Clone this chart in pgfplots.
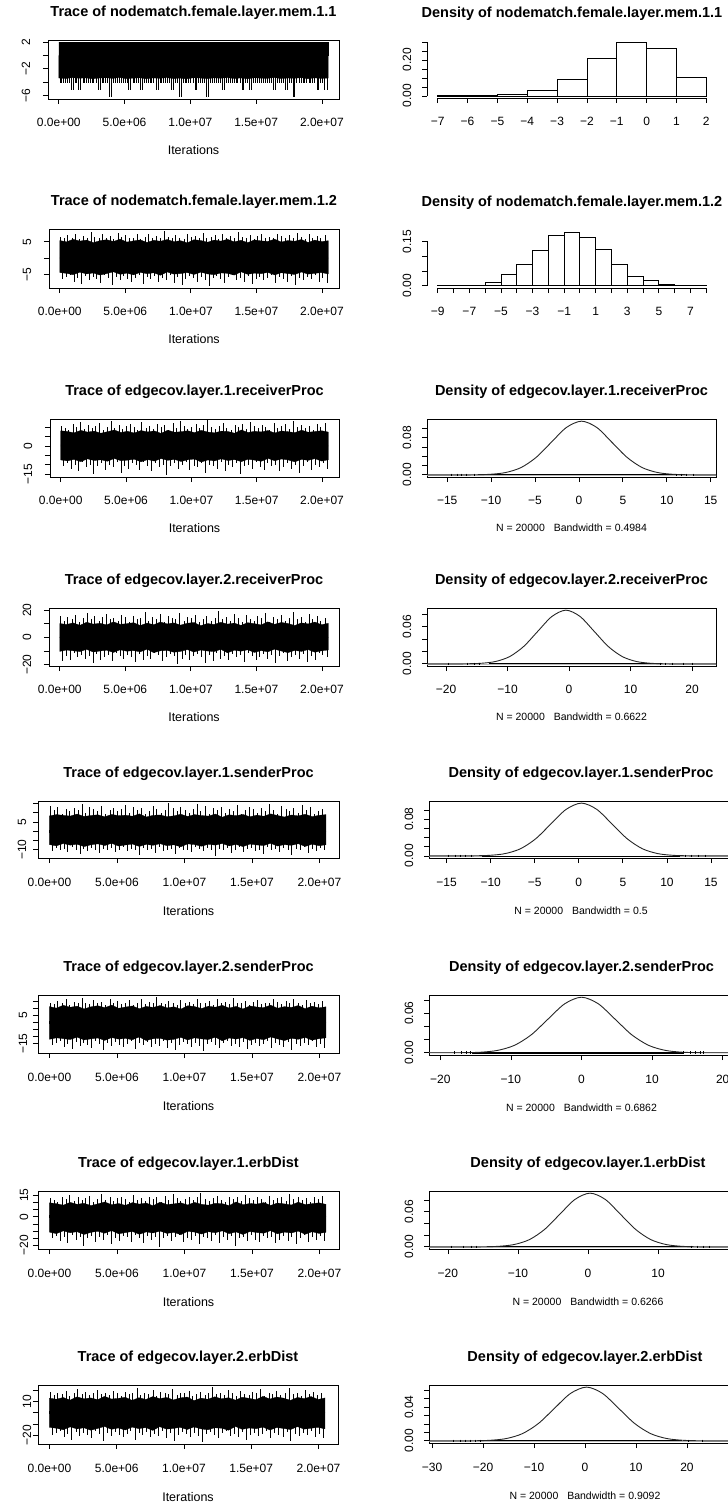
\documentclass[border=0pt]{standalone}
\usepackage{fontspec}
\setmainfont{Liberation Sans}
\usepackage{pgfplots}
\pgfplotsset{compat=1.18}
\usepackage{pgfplotstable}

\newcommand\titlefont{\fontsize{14.5}{17}\selectfont\bfseries}
\newcommand\tickfont{\fontsize{12}{14}\selectfont}
\newcommand\labfont{\fontsize{12.5}{15}\selectfont}
\newcommand\subfont{\fontsize{10.5}{13}\selectfont}

% envelope of the dense part of each trace (iterations in millions)
\pgfplotstableread{
x h1 l1 h2 l2 h3 l3 h4 l4 h5 l5 h6 l6 h7 l7 h8 l8
0 2 -3.38 5.42 -4.5 8.0 -7.4 10.15 -10.3 8.3 -7.3 11.3 -11.8 9.75 -10.7 13.2 -13.0
0.512 2 -3.45 5.0 -4.74 7.6 -7.9 9.4 -9.25 9.0 -8.0 10.25 -10.75 9.15 -11.75 12.2 -13.8
1.024 2 -3.32 5.78 -5.16 6.9 -7.1 10.6 -9.85 8.6 -6.7 12.2 -11.35 8.1 -9.8 13.8 -15.2
1.536 2 -3.41 5.24 -4.38 8.2 -8.3 8.8 -10.45 8.2 -7.6 10.85 -11.95 10.05 -11.15 11.4 -12.6
2.048 2 -3.36 5.54 -4.92 7.3 -6.8 11.05 -8.8 9.3 -7.1 11.6 -10.3 8.7 -10.4 14.4 -14.4
2.56 2 -3.49 4.76 -4.62 7.8 -7.7 9.7 -10.75 8.0 -8.4 9.65 -12.25 9.45 -12.35 12.6 -13.4
3.072 2 -3.39 5.36 -5.28 6.7 -7.3 10.3 -10.0 8.5 -7.4 11.15 -11.5 7.8 -10.85 13.4 -15.6
3.584 2 -3.34 5.66 -4.8 7.5 -8.1 9.1 -9.4 8.9 -6.9 11.9 -10.9 9.0 -10.1 11.8 -14.0
4.096 2 -3.43 5.12 -4.26 8.4 -6.6 11.35 -11.05 7.8 -7.8 10.55 -12.55 10.35 -11.45 14.8 -12.2
4.608 2 -3.31 5.84 -5.04 7.1 -7.8 9.55 -9.1 9.1 -6.6 12.35 -10.6 8.4 -9.65 12.4 -14.8
5.12 2 -3.46 4.94 -4.68 7.7 -7.5 10.0 -10.15 8.4 -8.1 10.1 -11.65 9.3 -11.9 13.0 -13.6
5.632 2 -3.4 5.3 -5.22 6.8 -7.0 10.75 -9.7 8.7 -7.5 11.0 -11.2 7.95 -11.0 14.0 -15.4
6.144 2 -3.35 5.6 -4.44 8.1 -8.4 8.65 -10.6 8.1 -7.0 11.75 -12.1 9.9 -10.25 11.2 -12.8
6.656 2 -3.48 4.82 -4.86 7.4 -7.2 10.45 -8.65 9.4 -8.3 9.8 -10.15 8.85 -12.2 13.6 -14.2
7.168 2 -3.37 5.48 -4.56 7.9 -8.0 9.25 -11.2 7.7 -7.2 11.45 -12.7 9.6 -10.55 12.0 -13.2
7.68 2 -3.42 5.18 -5.34 6.6 -6.7 11.2 -9.85 8.6 -7.7 10.7 -11.35 7.65 -11.3 14.6 -15.8
8.192 2 -3.33 5.72 -4.32 8.3 -7.6 9.85 -9.55 8.8 -6.8 12.05 -11.05 10.2 -9.95 12.8 -12.4
8.704 2 -3.44 5.06 -4.98 7.2 -7.1 10.6 -10.9 7.9 -7.9 10.4 -12.4 8.55 -11.6 13.8 -14.6
9.216 2 -3.39 5.36 -4.8 7.5 -8.2 8.95 -10.3 8.3 -7.4 11.15 -11.8 9.0 -10.85 11.6 -14.0
9.728 2 -3.5 4.7 -4.5 8.0 -7.3 10.3 -8.95 9.2 -8.5 9.5 -10.45 9.75 -12.5 13.4 -13.0
10.24 2 -3.34 5.66 -5.1 7.0 -6.9 10.9 -10.75 8.0 -6.9 11.9 -12.25 8.25 -10.1 14.2 -15.0
10.752 2 -3.38 5.42 -4.38 8.2 -8.5 8.5 -9.25 9.0 -7.3 11.3 -10.75 10.05 -10.7 11.0 -12.6
11.264 2 -3.47 4.88 -4.92 7.3 -7.4 10.15 -10.0 8.5 -8.2 9.95 -11.5 8.7 -12.05 13.2 -14.4
11.776 2 -3.36 5.54 -5.16 6.9 -7.9 9.4 -10.45 8.2 -7.1 11.6 -11.95 8.1 -10.4 12.2 -15.2
12.288 2 -3.41 5.24 -4.62 7.8 -6.8 11.05 -8.8 9.3 -7.6 10.85 -10.3 9.45 -11.15 14.4 -13.4
12.8 2 -3.32 5.78 -4.74 7.6 -7.7 9.7 -11.35 7.6 -6.7 12.2 -12.85 9.15 -9.8 12.6 -13.8
13.312 2 -3.45 5.0 -5.28 6.7 -7.2 10.45 -9.4 8.9 -8.0 10.25 -10.9 7.8 -11.75 13.6 -15.6
13.824 2 -3.37 5.48 -4.26 8.4 -8.3 8.8 -10.15 8.4 -7.2 11.45 -11.65 10.35 -10.55 11.4 -12.2
14.336 2 -3.49 4.76 -5.04 7.1 -7.0 10.75 -9.1 9.1 -8.4 9.65 -10.6 8.4 -12.35 14.0 -14.8
14.848 2 -3.35 5.6 -4.68 7.7 -7.5 10.0 -11.05 7.8 -7.0 11.75 -12.55 9.3 -10.25 13.0 -13.6
15.36 2 -3.4 5.3 -4.86 7.4 -8.1 9.1 -9.7 8.7 -7.5 11.0 -11.2 8.85 -11.0 11.8 -14.2
15.872 2 -3.43 5.12 -4.44 8.1 -6.6 11.35 -10.6 8.1 -7.8 10.55 -12.1 9.9 -11.45 14.8 -12.8
16.384 2 -3.31 5.84 -5.22 6.8 -7.8 9.55 -8.65 9.4 -6.6 12.35 -10.15 7.95 -9.65 12.4 -15.4
16.896 2 -3.46 4.94 -4.56 7.9 -6.9 10.9 -10.0 8.5 -8.1 10.1 -11.5 9.6 -11.9 14.2 -13.2
17.408 2 -3.38 5.42 -4.8 7.5 -7.4 10.15 -11.2 7.7 -7.3 11.3 -12.7 9.0 -10.7 13.2 -14.0
17.92 2 -3.42 5.18 -5.1 7.0 -8.4 8.65 -9.55 8.8 -7.7 10.7 -11.05 8.25 -11.3 11.2 -15.0
18.432 2 -3.33 5.72 -4.32 8.3 -7.1 10.6 -10.3 8.3 -6.8 12.05 -11.8 10.2 -9.95 13.8 -12.4
18.944 2 -3.48 4.82 -4.98 7.2 -7.6 9.85 -8.95 9.2 -8.3 9.8 -10.45 8.55 -12.2 12.8 -14.6
19.456 2 -3.36 5.54 -4.74 7.6 -6.7 11.2 -10.9 7.9 -7.1 11.6 -12.4 9.15 -10.4 14.6 -13.8
19.968 2 -3.44 5.06 -4.5 8.0 -8.0 9.25 -9.85 8.6 -7.9 10.4 -11.35 9.75 -11.6 12.0 -13.0
20.48 2 -3.39 5.36 -4.92 7.3 -7.3 10.3 -9.25 9.0 -7.4 11.15 -10.75 8.7 -10.85 13.4 -14.4
}\core

% single excursions beyond the dense part (up at xu, down at xd)
\pgfplotstableread{
xu xd d1 u2 d2 u3 d3 u4 d4 u5 d5 u6 d6 u7 d7 u8 d8
0.08 0.22 -4.2 6.55 -6.62 10.5 -10.6 15.5 -17.1 13.7 -11 14.15 -15.8 12.9 -15.05 19 -20
0.35 0.49 -4.2 6.05 -5.96 9.5 -9.2 12.3 -13.9 11.3 -9 13.05 -14.4 11.7 -13.35 15.8 -18
0.61 0.78 -4.2 7.05 -5.3 8.5 -12 14.7 -16.3 13.1 -10.5 15.25 -13 10.5 -16.75 18.2 -16
0.95 1.08 -5.2 6.3 -7.28 11.5 -9.9 13.1 -11.5 9.5 -9.5 13.6 -17.2 14.1 -14.2 16.6 -22
1.22 1.35 -4.2 7.55 -6.29 10 -13.4 16.3 -14.7 11.9 -11.5 16.35 -15.1 12.3 -18.45 19.8 -19
1.48 1.66 -5.2 5.8 -7.94 12.5 -8.5 11.5 -13.1 10.7 -8.5 12.5 -18.6 15.3 -12.5 15 -24
1.83 1.97 -4.2 6.8 -5.63 9 -11.3 13.9 -15.5 12.5 -10 14.7 -13.7 11.1 -15.9 17.4 -17
2.10 2.25 -4.2 6.3 -6.95 11 -9.9 17.9 -13.9 11.3 -12.5 13.6 -16.5 13.5 -14.2 21.4 -21
2.41 2.53 -4.2 8.05 -5.96 9.5 -14.8 13.1 -18.7 14.9 -9.5 17.45 -14.4 11.7 -20.15 16.6 -18
2.66 2.82 -4.2 6.55 -6.62 10.5 -10.6 15.5 -12.3 10.1 -11 14.15 -15.8 12.9 -15.05 19 -20
2.98 3.12 -5.2 6.05 -7.61 12 -9.2 12.3 -16.3 13.1 -9 13.05 -17.9 14.7 -13.35 15.8 -23
3.27 3.41 -4.2 7.3 -5.3 8.5 -12.7 14.7 -14.7 11.9 -10.5 15.8 -13 10.5 -17.6 18.2 -16
3.55 3.70 -4.2 6.3 -6.29 10 -9.9 17.1 -13.1 10.7 -12 13.6 -15.1 12.3 -14.2 20.6 -19
3.86 3.99 -6.2 6.8 -8.27 13 -11.3 13.1 -17.1 13.7 -9.5 14.7 -19.3 15.9 -15.9 16.6 -25
4.12 4.30 -4.2 5.8 -5.96 9.5 -8.5 13.9 -11.5 9.5 -10 12.5 -14.4 11.7 -12.5 17.4 -18
4.47 4.60 -4.2 7.8 -6.95 11 -14.1 12.3 -13.9 11.3 -9 16.9 -16.5 13.5 -19.3 15.8 -21
4.73 4.88 -4.2 6.55 -5.63 9 -10.6 16.3 -15.5 12.5 -11.5 14.15 -13.7 11.1 -15.05 19.8 -17
5.02 5.17 -4.2 7.05 -6.62 10.5 -12 14.7 -13.1 10.7 -10.5 15.25 -15.8 12.9 -16.75 18.2 -20
5.31 5.47 -5.2 6.05 -7.28 11.5 -9.2 11.5 -14.7 11.9 -8.5 13.05 -17.2 14.1 -13.35 15 -22
5.64 5.77 -4.2 6.3 -6.29 10 -9.9 15.5 -17.9 14.3 -11 13.6 -15.1 12.3 -14.2 19 -19
5.90 6.04 -4.2 7.3 -5.3 8.5 -12.7 13.1 -12.3 10.1 -9.5 15.8 -13 10.5 -17.6 16.6 -16
6.18 6.35 -5.2 5.8 -7.94 12.5 -8.5 13.9 -16.3 13.1 -10 12.5 -18.6 15.3 -12.5 17.4 -24
6.52 6.65 -4.2 6.55 -5.96 9.5 -10.6 18.7 -13.9 11.3 -13 14.15 -14.4 11.7 -15.05 22.2 -18
6.79 6.93 -4.2 7.55 -6.62 10.5 -13.4 12.3 -15.5 12.5 -9 16.35 -15.8 12.9 -18.45 15.8 -20
7.07 7.22 -4.2 6.05 -5.63 9 -9.2 14.7 -11.5 9.5 -10.5 13.05 -13.7 11.1 -13.35 18.2 -17
7.38 7.53 -5.2 6.8 -7.28 11.5 -11.3 13.1 -13.1 10.7 -9.5 14.7 -17.2 14.1 -15.9 16.6 -22
7.69 7.82 -4.2 6.3 -6.29 10 -9.9 17.1 -17.1 13.7 -12 13.6 -15.1 12.3 -14.2 20.6 -19
7.95 8.10 -4.2 8.3 -6.95 11 -15.5 11.5 -14.7 11.9 -8.5 18 -16.5 13.5 -21 15 -21
8.26 8.42 -4.2 6.55 -5.3 8.5 -10.6 15.5 -12.3 10.1 -11 14.15 -13 10.5 -15.05 19 -16
8.58 8.71 -5.2 6.05 -7.61 12 -9.2 13.9 -13.9 11.3 -10 13.05 -17.9 14.7 -13.35 17.4 -23
8.84 9.00 -4.2 7.05 -5.96 9.5 -12 13.1 -19.5 15.5 -9.5 15.25 -14.4 11.7 -16.75 16.6 -18
9.15 9.31 -6.2 6.3 -8.27 13 -9.9 17.9 -15.5 12.5 -12.5 13.6 -19.3 15.9 -14.2 21.4 -25
9.47 9.60 -4.2 5.8 -6.62 10.5 -8.5 12.3 -13.1 10.7 -9 12.5 -15.8 12.9 -12.5 15.8 -20
9.72 9.88 -4.2 7.3 -5.63 9 -12.7 14.7 -16.3 13.1 -10.5 15.8 -13.7 11.1 -17.6 18.2 -17
10.03 10.19 -4.2 6.55 -6.29 10 -10.6 13.9 -13.9 11.3 -10 14.15 -15.1 12.3 -15.05 17.4 -19
10.36 10.49 -5.2 6.8 -7.28 11.5 -11.3 16.3 -12.3 10.1 -11.5 14.7 -17.2 14.1 -15.9 19.8 -22
10.62 10.78 -4.2 6.05 -5.96 9.5 -9.2 11.5 -14.7 11.9 -8.5 13.05 -14.4 11.7 -13.35 15 -18
10.94 11.08 -4.2 7.8 -6.95 11 -14.1 13.1 -18.7 14.9 -9.5 16.9 -16.5 13.5 -19.3 16.6 -21
11.21 11.38 -6.2 6.3 -8.6 13.5 -9.9 15.5 -13.1 10.7 -11 13.6 -20 16.5 -14.2 19 -26
11.55 11.69 -4.2 6.55 -6.29 10 -10.6 12.3 -17.1 13.7 -9 14.15 -15.1 12.3 -15.05 15.8 -19
11.83 11.97 -4.2 7.05 -5.63 9 -12 13.9 -11.5 9.5 -10 15.25 -13.7 11.1 -16.75 17.4 -17
12.12 12.26 -4.2 5.8 -6.62 10.5 -8.5 19.5 -15.5 12.5 -13.5 12.5 -15.8 12.9 -12.5 23 -20
12.41 12.56 -5.2 7.55 -7.61 12 -13.4 13.1 -13.9 11.3 -9.5 16.35 -17.9 14.7 -18.45 16.6 -23
12.70 12.86 -4.2 6.3 -5.96 9.5 -9.9 14.7 -16.3 13.1 -10.5 13.6 -14.4 11.7 -14.2 18.2 -18
13.02 13.17 -4.2 6.8 -5.3 8.5 -11.3 12.3 -12.3 10.1 -9 14.7 -13 10.5 -15.9 15.8 -16
13.33 13.46 -4.2 6.05 -6.95 11 -9.2 17.1 -14.7 11.9 -12 13.05 -16.5 13.5 -13.35 20.6 -21
13.60 13.76 -4.2 8.05 -6.29 10 -14.8 13.9 -13.1 10.7 -10 17.45 -15.1 12.3 -20.15 17.4 -19
13.92 14.06 -5.2 6.55 -7.28 11.5 -10.6 11.5 -17.9 14.3 -8.5 14.15 -17.2 14.1 -15.05 15 -22
14.21 14.35 -4.2 6.3 -5.63 9 -9.9 16.3 -11.5 9.5 -11.5 13.6 -13.7 11.1 -14.2 19.8 -17
14.50 14.66 -5.2 7.05 -7.94 12.5 -12 13.1 -13.9 11.3 -9.5 15.25 -18.6 15.3 -16.75 16.6 -24
14.82 14.96 -4.2 5.8 -6.62 10.5 -8.5 12.3 -16.3 13.1 -9 12.5 -15.8 12.9 -12.5 15.8 -20
15.10 15.25 -4.2 6.8 -5.96 9.5 -11.3 15.5 -14.7 11.9 -11 14.7 -14.4 11.7 -15.9 19 -18
15.41 15.55 -4.2 7.3 -6.95 11 -12.7 13.9 -12.3 10.1 -10 15.8 -16.5 13.5 -17.6 17.4 -21
15.69 15.84 -4.2 6.05 -6.29 10 -9.2 17.9 -15.5 12.5 -12.5 13.05 -15.1 12.3 -13.35 21.4 -19
16.00 16.15 -4.2 6.55 -5.3 8.5 -10.6 11.5 -13.1 10.7 -8.5 14.15 -13 10.5 -15.05 15 -16
16.31 16.44 -5.2 6.3 -7.61 12 -9.9 14.7 -18.7 14.9 -10.5 13.6 -17.9 14.7 -14.2 18.2 -23
16.58 16.74 -4.2 7.55 -5.96 9.5 -13.4 13.1 -13.9 11.3 -9.5 16.35 -14.4 11.7 -18.45 16.6 -18
16.90 17.04 -4.2 6.8 -6.62 10.5 -11.3 16.3 -11.5 9.5 -11.5 14.7 -15.8 12.9 -15.9 19.8 -20
17.19 17.35 -5.2 6.05 -7.28 11.5 -9.2 12.3 -17.1 13.7 -9 13.05 -17.2 14.1 -13.35 15.8 -22
17.52 17.66 -4.2 7.05 -5.63 9 -12 13.9 -14.7 11.9 -10 15.25 -13.7 11.1 -16.75 17.4 -17
17.80 17.94 -6.2 6.3 -8.27 13 -9.9 18.7 -13.1 10.7 -13 13.6 -19.3 15.9 -14.2 22.2 -25
18.09 18.25 -4.2 7.8 -6.29 10 -14.1 13.1 -15.5 12.5 -9.5 16.9 -15.1 12.3 -19.3 16.6 -19
18.41 18.55 -4.2 6.55 -6.95 11 -10.6 14.7 -12.3 10.1 -10.5 14.15 -16.5 13.5 -15.05 18.2 -21
18.70 18.85 -4.2 5.8 -5.96 9.5 -8.5 11.5 -17.9 14.3 -8.5 12.5 -14.4 11.7 -12.5 15 -18
19.01 19.15 -4.2 7.3 -6.62 10.5 -12.7 17.1 -13.9 11.3 -12 15.8 -15.8 12.9 -17.6 20.6 -20
19.30 19.46 -4.2 6.3 -5.3 8.5 -9.9 13.1 -16.3 13.1 -9.5 13.6 -13 10.5 -14.2 16.6 -16
19.62 19.76 -5.2 6.8 -7.28 11.5 -11.3 15.5 -11.5 9.5 -11 14.7 -17.2 14.1 -15.9 19 -22
19.90 20.06 -4.2 6.05 -6.29 10 -9.2 12.3 -13.1 10.7 -9 13.05 -15.1 12.3 -13.35 15.8 -19
20.22 20.38 -5.2 7.05 -7.61 12 -12 13.9 -14.7 11.9 -10 15.25 -17.9 14.7 -16.75 17.4 -23
}\spk

\pgfplotsset{
  rpanel/.style={
    scale only axis, anchor=north west, clip=true,
    tick pos=left, tick align=outside, major tick length=5pt,
    axis line style={line width=0.8pt},
    every tick/.style={black, line width=0.8pt},
    tick label style={font=\tickfont},
    xticklabel style={anchor=center},
    title style={at={(0.5,1)}, anchor=center, yshift=21pt, font=\titlefont},
    xlabel style={at={(0.5,0)}, anchor=center},
    scaled ticks=false,
  },
  lab14/.style={xticklabel style={yshift=-18pt}, xlabel style={yshift=-51pt}},
  lab58/.style={xticklabel style={yshift=-19pt}, xlabel style={yshift=-53pt}},
  ylab/.style={yticklabel style={xshift=-#1, rotate=90, anchor=center}},
  trace/.style={rpanel, xtick={0,5,10,15,20},
    xticklabels={0.0e+00,5.0e+06,1.0e+07,1.5e+07,2.0e+07},
    xlabel={Iterations}, xlabel style={font=\labfont}},
  traceA/.style={trace, lab14, ylab=17pt, xmin=-0.82, xmax=21.3},
  traceB/.style={trace, lab58, xmin=-0.85, xmax=21.45},
  dens/.style={rpanel, ylab=15pt, xlabel style={font=\subfont}},
  core/.style={fill=black, draw=black, line width=0.3pt},
  seam/.style={black, line width=3pt},
  spike/.style={ycomb, black, line width=0.6pt, mark=none},
  zline/.style={gray!55, line width=0.6pt},
  curve/.style={smooth, black!85, line width=0.9pt},
  rug/.style={only marks, mark=|, mark size=1.3pt, black, mark options={line width=0.5pt}},
}

\begin{document}
\begin{tikzpicture}

% ---------------- row 1
\begin{axis}[traceA, at={(48pt,-40pt)}, width=291pt, height=59pt,
  ymin=-6.53, ymax=2.33, ytick={-6,-4,-2,0,2}, yticklabels={−6,{},−2,{},2},
  title={Trace of nodematch.female.layer.mem.1.1}]
\addplot[core] table[x=x,y=h1]{\core} \closedcycle;
\addplot[core] table[x=x,y=l1]{\core} \closedcycle;
\addplot[seam] coordinates {(0,0) (20.48,0)};
\addplot[spike] table[x=xd,y=d1]{\spk};
\addplot[spike] table[x=xu,y=d1]{\spk};
\end{axis}

\begin{axis}[rpanel, lab14, ylab=15pt, at={(427pt,-40.7pt)}, width=290pt, height=57.4pt,
  axis line style={draw=none}, clip=false,
  xmin=-7.36, xmax=2.36, ymin=-0.0118, ymax=0.3068,
  xtick={-7,-6,-5,-4,-3,-2,-1,0,1,2}, xticklabels={−7,−6,−5,−4,−3,−2,−1,0,1,2},
  ytick={0,0.05,0.1,0.15,0.2,0.25,0.3}, yticklabels={0.00,{},{},{},0.20,{},{}},
  title={Density of nodematch.female.layer.mem.1.1}]
\addplot[ybar interval, fill=white, draw=black, line width=0.8pt] coordinates {
 (-7,0.0005) (-6,0.0005) (-5,0.007) (-4,0.033) (-3,0.094) (-2,0.208)
 (-1,0.295) (0,0.262) (1,0.101) (2,0.101)};
\draw[line width=0.8pt] (axis cs:-7,-0.0118) -- (axis cs:2,-0.0118);
\draw[line width=0.8pt] (axis cs:-7.36,0) -- (axis cs:-7.36,0.3);
\end{axis}

% ---------------- row 2
\begin{axis}[traceA, at={(49pt,-229pt)}, width=290pt, height=59pt,
  ymin=-9.28, ymax=8.98, ytick={-5,0,5}, yticklabels={−5,{},5},
  title={Trace of nodematch.female.layer.mem.1.2}]
\addplot[core] table[x=x,y=h2]{\core} \closedcycle;
\addplot[core] table[x=x,y=l2]{\core} \closedcycle;
\addplot[seam] coordinates {(0,0) (20.48,0)};
\addplot[spike] table[x=xu,y=u2]{\spk};
\addplot[spike] table[x=xd,y=d2]{\spk};
\end{axis}

\begin{axis}[rpanel, lab14, ylab=15pt, at={(427pt,-230pt)}, width=290pt, height=58pt,
  axis line style={draw=none}, clip=false,
  xmin=-9.68, xmax=8.68, ymin=-0.00724, ymax=0.1882,
  xtick={-9,-8,...,8}, xticklabels={−9,{},−7,{},−5,{},−3,{},−1,{},1,{},3,{},5,{},7,{}},
  ytick={0,0.05,0.1,0.15}, yticklabels={0.00,{},{},0.15},
  title={Density of nodematch.female.layer.mem.1.2}]
\addplot[ybar interval, fill=white, draw=black, line width=0.8pt] coordinates {
 (-9,0.0005) (-8,0.003) (-7,0.003) (-6,0.012) (-5,0.037) (-4,0.073) (-3,0.121)
 (-2,0.169) (-1,0.181) (0,0.164) (1,0.124) (2,0.072) (3,0.032) (4,0.017)
 (5,0.004) (6,0.001) (7,0.0005) (8,0.0005)};
\draw[line width=0.8pt] (axis cs:-9,-0.00724) -- (axis cs:8,-0.00724);
\draw[line width=0.8pt] (axis cs:-9.68,0) -- (axis cs:-9.68,0.15);
\end{axis}

% ---------------- row 3
\begin{axis}[traceA, at={(50pt,-419pt)}, width=289pt, height=58pt,
  ymin=-16.4, ymax=14.2, ytick={-15,-10,-5,0,5,10}, yticklabels={−15,{},{},0,{},{}},
  title={Trace of edgecov.layer.1.receiverProc}]
\addplot[core] table[x=x,y=h3]{\core} \closedcycle;
\addplot[core] table[x=x,y=l3]{\core} \closedcycle;
\addplot[seam] coordinates {(0,0) (20.48,0)};
\addplot[spike] table[x=xu,y=u3]{\spk};
\addplot[spike] table[x=xd,y=d3]{\spk};
\end{axis}

\begin{axis}[dens, lab14, at={(427pt,-419pt)}, width=289pt, height=58pt,
  xmin=-17.3, xmax=15.6, ymin=-0.00463, ymax=0.1203,
  xtick={-15,-10,...,15}, xticklabels={−15,−10,−5,0,5,10,15},
  ytick={0,0.02,...,0.1}, yticklabels={0.00,{},{},{},0.08,{}},
  xlabel={N = 20000\hspace{0.85em}Bandwidth = 0.4984},
  title={Density of edgecov.layer.1.receiverProc}]
\addplot[zline] coordinates {(-40,0) (40,0)};
\addplot[black, line width=0.8pt] coordinates {(-10.5,0) (11,0)};
\addplot[rug] coordinates {(-14.5,0) (-13.9,0) (-13.4,0) (-12.8,0) (-11.9,0) (11.1,0) (11.6,0) (12.2,0) (13.0,0)};
\addplot[curve] coordinates {(-17.3,0) (-13.5,0.00004) (-11.78,0.00025) (-10.05,0.00128)
 (-8.33,0.00508) (-6.6,0.01565) (-4.88,0.03754) (-3.15,0.07014) (-1.43,0.10205)
 (0.3,0.11563) (2.03,0.10205) (3.75,0.07014) (5.48,0.03754) (7.2,0.01565)
 (8.93,0.00508) (10.65,0.00128) (12.38,0.00025) (14.1,0.00004) (15.6,0)};
\end{axis}

% ---------------- row 4
\begin{axis}[traceA, at={(49pt,-608pt)}, width=290pt, height=58pt,
  ymin=-21, ymax=21.5, ytick={-20,-10,0,10,20}, yticklabels={−20,{},0,{},20},
  title={Trace of edgecov.layer.2.receiverProc}]
\addplot[core] table[x=x,y=h4]{\core} \closedcycle;
\addplot[core] table[x=x,y=l4]{\core} \closedcycle;
\addplot[seam] coordinates {(0,0) (20.48,0)};
\addplot[spike] table[x=xu,y=u4]{\spk};
\addplot[spike] table[x=xd,y=d4]{\spk};
\end{axis}

\begin{axis}[dens, lab14, at={(427pt,-608pt)}, width=289pt, height=58pt,
  xmin=-23.1, xmax=23.9, ymin=-0.00348, ymax=0.0906,
  xtick={-20,-10,0,10,20}, xticklabels={−20,−10,0,10,20},
  ytick={0,0.02,...,0.08}, yticklabels={0.00,{},{},0.06,{}},
  xlabel={N = 20000\hspace{0.85em}Bandwidth = 0.6622},
  title={Density of edgecov.layer.2.receiverProc}]
\addplot[zline] coordinates {(-40,0) (40,0)};
\addplot[black, line width=0.8pt] coordinates {(-13,0) (13.5,0)};
\addplot[rug] coordinates {(-19.7,0) (-16.5,0) (-15.4,0) (-14.6,0) (14.9,0) (15.7,0) (16.8,0) (18.6,0) (20.0,0)};
\addplot[curve] coordinates {(-23.1,0) (-18.82,0.00003) (-16.53,0.00019) (-14.24,0.00097)
 (-11.95,0.00383) (-9.66,0.01179) (-7.37,0.02828) (-5.08,0.05283) (-2.79,0.07687)
 (-0.5,0.08711) (1.79,0.07687) (4.08,0.05283) (6.37,0.02828) (8.66,0.01179)
 (10.95,0.00383) (13.24,0.00097) (15.53,0.00019) (17.82,0.00003) (23.9,0)};
\end{axis}

% ---------------- row 5
\begin{axis}[traceB, ylab=11pt, at={(38pt,-801pt)}, width=301pt, height=57pt,
  ymin=-14.6, ymax=16.4, ytick={-10,-5,0,5,10,15}, yticklabels={−10,{},{},5,{},{}},
  title={Trace of edgecov.layer.1.senderProc}]
\addplot[core] table[x=x,y=h5]{\core} \closedcycle;
\addplot[core] table[x=x,y=l5]{\core} \closedcycle;
\addplot[seam] coordinates {(0,0) (20.48,0)};
\addplot[spike] table[x=xu,y=u5]{\spk};
\addplot[spike] table[x=xd,y=d5]{\spk};
\end{axis}

\begin{axis}[dens, lab58, at={(429pt,-801pt)}, width=304pt, height=57pt,
  xmin=-17, xmax=17.5, ymin=-0.00461, ymax=0.1199,
  xtick={-15,-10,...,15}, xticklabels={−15,−10,−5,0,5,10,15},
  ytick={0,0.02,...,0.1}, yticklabels={0.00,{},{},{},0.08,{}},
  xlabel={N = 20000\hspace{0.85em}Bandwidth = 0.5},
  title={Density of edgecov.layer.1.senderProc}]
\addplot[zline] coordinates {(-40,0) (40,0)};
\addplot[black, line width=0.8pt] coordinates {(-11,0) (11.5,0)};
\addplot[rug] coordinates {(-14.8,0) (-14.0,0) (-13.5,0) (-12.9,0) (-12.2,0) (12.1,0) (12.8,0) (13.6,0) (14.3,0)};
\addplot[curve] coordinates {(-17,0) (-13.54,0.00004) (-11.81,0.00025) (-10.08,0.00128)
 (-8.35,0.00507) (-6.62,0.0156) (-4.89,0.03743) (-3.16,0.06993) (-1.43,0.10175)
 (0.3,0.1153) (2.03,0.10175) (3.76,0.06993) (5.49,0.03743) (7.22,0.0156)
 (8.95,0.00507) (10.68,0.00128) (12.41,0.00025) (14.14,0.00004) (17.5,0)};
\end{axis}

% ---------------- row 6
\begin{axis}[traceB, ylab=10pt, at={(38pt,-995pt)}, width=301pt, height=58pt,
  ymin=-21.5, ymax=19.5, ytick={-15,-10,...,15}, yticklabels={−15,{},{},{},5,{},{}},
  title={Trace of edgecov.layer.2.senderProc}]
\addplot[core] table[x=x,y=h6]{\core} \closedcycle;
\addplot[core] table[x=x,y=l6]{\core} \closedcycle;
\addplot[seam] coordinates {(0,0) (20.48,0)};
\addplot[spike] table[x=xu,y=u6]{\spk};
\addplot[spike] table[x=xd,y=d6]{\spk};
\end{axis}

\begin{axis}[dens, lab58, at={(429pt,-995pt)}, width=305pt, height=60pt,
  xmin=-21.6, xmax=21.6, ymin=-0.00336, ymax=0.0875,
  xtick={-20,-10,0,10,20}, xticklabels={−20,−10,0,10,20},
  ytick={0,0.02,...,0.08}, yticklabels={0.00,{},{},0.06,{}},
  xlabel={N = 20000\hspace{0.85em}Bandwidth = 0.6862},
  title={Density of edgecov.layer.2.senderProc}]
\addplot[zline] coordinates {(-40,0) (40,0)};
\addplot[black, line width=2.2pt] coordinates {(-15.5,0) (14.5,0)};
\addplot[rug] coordinates {(-18.0,0) (-17.0,0) (-16.3,0) (-15.8,0) (14.4,0) (15.4,0) (16.1,0) (16.8,0) (17.3,0)};
\addplot[curve] coordinates {(-21.6,0) (-18.96,0.00003) (-16.59,0.00018) (-14.22,0.00093)
 (-11.85,0.0037) (-9.48,0.01139) (-7.11,0.02732) (-4.74,0.05105) (-2.37,0.07428)
 (0,0.08416) (2.37,0.07428) (4.74,0.05105) (7.11,0.02732) (9.48,0.01139)
 (11.85,0.0037) (14.22,0.00093) (16.59,0.00018) (18.96,0.00003) (21.6,0)};
\end{axis}

% ---------------- row 7
\begin{axis}[traceB, ylab=9pt, at={(38pt,-1191pt)}, width=301pt, height=58pt,
  ymin=-22.5, ymax=18, ytick={-20,-15,...,15}, yticklabels={−20,{},{},{},0,{},{},15},
  title={Trace of edgecov.layer.1.erbDist}]
\addplot[core] table[x=x,y=h7]{\core} \closedcycle;
\addplot[core] table[x=x,y=l7]{\core} \closedcycle;
\addplot[seam] coordinates {(0,0) (20.48,0)};
\addplot[spike] table[x=xu,y=u7]{\spk};
\addplot[spike] table[x=xd,y=d7]{\spk};
\end{axis}

\begin{axis}[dens, lab58, at={(429pt,-1191pt)}, width=318pt, height=58pt,
  xmin=-22.7, xmax=22.7, ymin=-0.00368, ymax=0.0958,
  xtick={-20,-10,0,10,20}, xticklabels={−20,−10,0,10,{}},
  ytick={0,0.02,...,0.08}, yticklabels={0.00,{},{},0.06,{}},
  xlabel={N = 20000\hspace{0.85em}Bandwidth = 0.6266},
  title={Density of edgecov.layer.1.erbDist}]
\addplot[zline] coordinates {(-40,0) (40,0)};
\addplot[black, line width=0.8pt] coordinates {(-14,0) (14,0)};
\addplot[rug] coordinates {(-19.5,0) (-17.8,0) (-16.6,0) (-15.9,0) (14.8,0) (15.6,0) (16.4,0) (17.3,0)};
\addplot[curve] coordinates {(-22.7,0) (-17.02,0.00003) (-14.86,0.0002) (-12.69,0.00102)
 (-10.53,0.00405) (-8.36,0.01247) (-6.2,0.02991) (-4.03,0.05588) (-1.87,0.08131)
 (0.3,0.09213) (2.47,0.08131) (4.63,0.05588) (6.8,0.02991) (8.96,0.01247)
 (11.13,0.00405) (13.29,0.00102) (15.46,0.0002) (17.62,0.00003) (22.7,0)};
\end{axis}

% ---------------- row 8
\begin{axis}[traceB, ylab=6pt, at={(38pt,-1385pt)}, width=300pt, height=59pt,
  ymin=-28, ymax=25, ytick={-20,-10,0,10,20}, yticklabels={−20,{},{},10,{}},
  title={Trace of edgecov.layer.2.erbDist}]
\addplot[core] table[x=x,y=h8]{\core} \closedcycle;
\addplot[core] table[x=x,y=l8]{\core} \closedcycle;
\addplot[seam] coordinates {(0,0) (20.48,0)};
\addplot[spike] table[x=xu,y=u8]{\spk};
\addplot[spike] table[x=xd,y=d8]{\spk};
\end{axis}

\begin{axis}[dens, lab58, at={(429pt,-1385pt)}, width=312pt, height=58pt,
  xmin=-30.6, xmax=30.6, ymin=-0.00254, ymax=0.066,
  xtick={-30,-20,...,30}, xticklabels={−30,−20,−10,0,10,20,{}},
  ytick={0,0.01,...,0.06}, yticklabels={0.00,{},{},{},0.04,{},{}},
  xlabel={N = 20000\hspace{0.85em}Bandwidth = 0.9092},
  title={Density of edgecov.layer.2.erbDist}]
\addplot[zline] coordinates {(-40,0) (40,0)};
\addplot[black, line width=0.8pt] coordinates {(-19,0) (19,0)};
\addplot[rug] coordinates {(-25.8,0) (-24.5,0) (-23.5,0) (-22.5,0) (-21.6,0) (-20.6,0) (20.3,0) (22.9,0)};
\addplot[curve] coordinates {(-30.6,0) (-24.82,0.00002) (-21.68,0.00014) (-18.54,0.00071)
 (-15.4,0.00279) (-12.26,0.0086) (-9.12,0.02062) (-5.98,0.03853) (-2.84,0.05606)
 (0.3,0.06353) (3.44,0.05606) (6.58,0.03853) (9.72,0.02062) (12.86,0.0086)
 (16.0,0.00279) (19.14,0.00071) (22.28,0.00014) (25.42,0.00002) (30.6,0)};
\end{axis}

\pgfresetboundingbox
\path[use as bounding box] (0,0) rectangle (728pt,-1507pt);
\end{tikzpicture}
\end{document}
